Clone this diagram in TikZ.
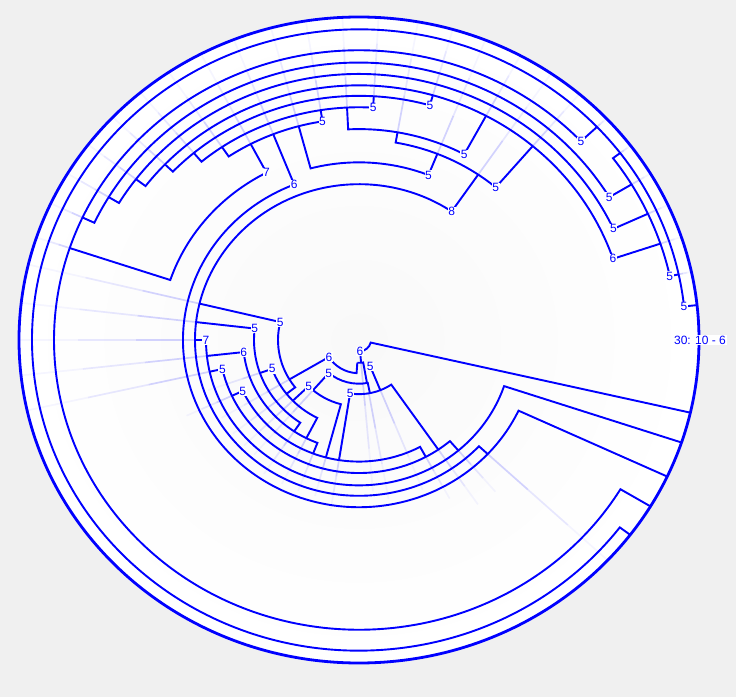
\documentclass[tikz,border=0pt]{standalone}
\usepackage{fontspec}
\setmainfont{Liberation Sans}
\definecolor{tb}{RGB}{0,0,255}
\definecolor{bgc}{RGB}{240,240,240}
\newcommand\mynode[4]{\draw[ln] (#2:#1) arc[start angle=#2,end angle=#3,radius=#1] -- (#3:#4);}
\newcommand\myrad[3]{\draw[ln] (#1:#2) -- (#1:#3);}
\newcommand\myfaint[3]{%
  \pgfmathsetmacro\fmA{#2+(#3-#2)/3}%
  \pgfmathsetmacro\fmB{#2+2*(#3-#2)/3}%
  \draw[fl, draw opacity=0.17] (#1:#2) -- (#1:\fmA);%
  \draw[fl, draw opacity=0.09] (#1:\fmA) -- (#1:\fmB);%
  \draw[fl, draw opacity=0.04] (#1:\fmB) -- (#1:#3);}
\newcommand\mylab[3]{\node[lab] at (#1:#2) {#3};}
\begin{document}
\begin{tikzpicture}[x=1pt,y=1pt,
  ln/.style={draw=tb, line width=1.9pt},
  fl/.style={draw=tb, line width=1.7pt},
  lab/.style={text=tb, fill=white, inner sep=0.6pt, font=\fontsize{12}{13}\selectfont}]
\fill[bgc] (0,0) rectangle (736,697);
\useasboundingbox (0,0) rectangle (736,697);
\begin{scope}[shift={(359,357)}, yscale=0.95]
\shade[inner color={rgb,255:red,249;green,249;blue,249}, outer color=white] (0,0) circle[radius=340];
% faint extensions
\foreach \a/\f/\t in {12.2/327/340, 43.3/327/340, 31/318/340, 24.7/318/340, 18.6/318/340,
  74/268/340, 86.7/257/340, 99/245/340, 61.7/268/340, 49.6/268/340, 68.2/211/340,
  117.7/233/340, 111.6/233/340, 55.6/211/340, 180/164/340, 186.3/153/340, 192.6/153/340,
  204.8/140/190, 173.4/164/340, 199.3/105/160, 166.5/164/340, 224/92/160, 210.8/81/160,
  229/70/160, 261/128/180, 275/24/160, 292/57/170,
  37/327/340, 155/305/340, 149/292/340, 142.8/280/340, 136.4/268/340, 130/257/340,
  124/245/340, 92.8/245/340, 80/222/340, 105/233/340, 161.5/305/340, 317/176/340,
  310.5/153/210, 298.5/140/190, 249/128/170, 236/116/170, 243/116/170, 218/92/160,
  255/128/170, 280/57/170, 304.5/140/210}
  {\myfaint{\a}{\f}{\t}}
% rings with their end connectors
\mynode{327}{6.2}{322.9}{340}
\mynode{318}{12.2}{37}{327}
\mynode{305}{43.3}{329}{340}
\mynode{292}{31}{155}{305}
\mynode{280}{24.7}{149}{292}
\mynode{268}{18.6}{142.8}{280}
\mynode{257}{74}{136.4}{268}
\mynode{245}{86.7}{130}{257}
\mynode{233}{99}{124}{245}
\mynode{222}{61.7}{92.8}{245}
\mynode{211}{49.6}{80}{222}
\mynode{187}{68.2}{105}{233}
\mynode{199}{117.7}{161.5}{305}
\mynode{176}{111.6}{335}{340}
\mynode{164}{55.6}{317}{176}
\mynode{153}{180}{341.5}{340}
\mynode{140}{192.6}{310.5}{153}
\mynode{128}{204.8}{298.5}{140}
\mynode{116}{186.3}{249}{128}
\mynode{105}{173.4}{236}{116}
\mynode{92}{199.3}{243}{116}
\mynode{81}{166.5}{218}{92}
\mynode{70}{224}{255}{128}
\mynode{57}{261}{304.5}{140}
\mynode{46}{229}{281}{57}
\mynode{35}{210.8}{266}{24}
\mynode{24}{266}{280}{46}
\mynode{12}{275}{347}{340}
% label connectors
\foreach \a/\f/\t in {6.2/327/340, 12.2/318/327, 43.3/305/327, 31/292/318, 24.7/280/318,
  18.6/268/318, 74/257/268, 86.7/245/257, 99/233/245, 61.7/222/268, 49.6/211/268,
  68.2/187/211, 117.7/199/233, 111.6/176/233, 55.6/164/211, 180/153/164, 186.3/116/153,
  192.6/140/153, 204.8/128/140, 173.4/105/164, 199.3/92/105, 166.5/81/164, 224/70/92,
  210.8/35/81, 229/46/70, 261/57/128, 275/12/24, 292/30/57}
  {\myrad{\a}{\f}{\t}}
% root ring
\draw[draw=tb, line width=2.8pt] (0,0) circle[radius=340];
% labels
\foreach \a/\r/\t in {6.2/327/5, 12.2/318/5, 43.3/305/5, 31/292/5, 24.7/280/5, 18.6/268/6,
  74/257/5, 86.7/245/5, 99/233/5, 61.7/222/5, 49.6/211/5, 68.2/187/5, 117.7/199/7,
  111.6/176/6, 55.6/164/8, 180/153/7, 186.3/116/6, 192.6/140/5, 204.8/128/5,
  173.4/105/5, 199.3/92/5, 166.5/81/5, 224/70/5, 210.8/35/6, 229/46/5, 261/57/5,
  275/12/6, 292/30/5}
  {\mylab{\a}{\r}{\t}}
\node[lab, inner sep=1pt] (root) at (0:341) {30: 10 - 6};
\end{scope}
\end{tikzpicture}
\end{document}
